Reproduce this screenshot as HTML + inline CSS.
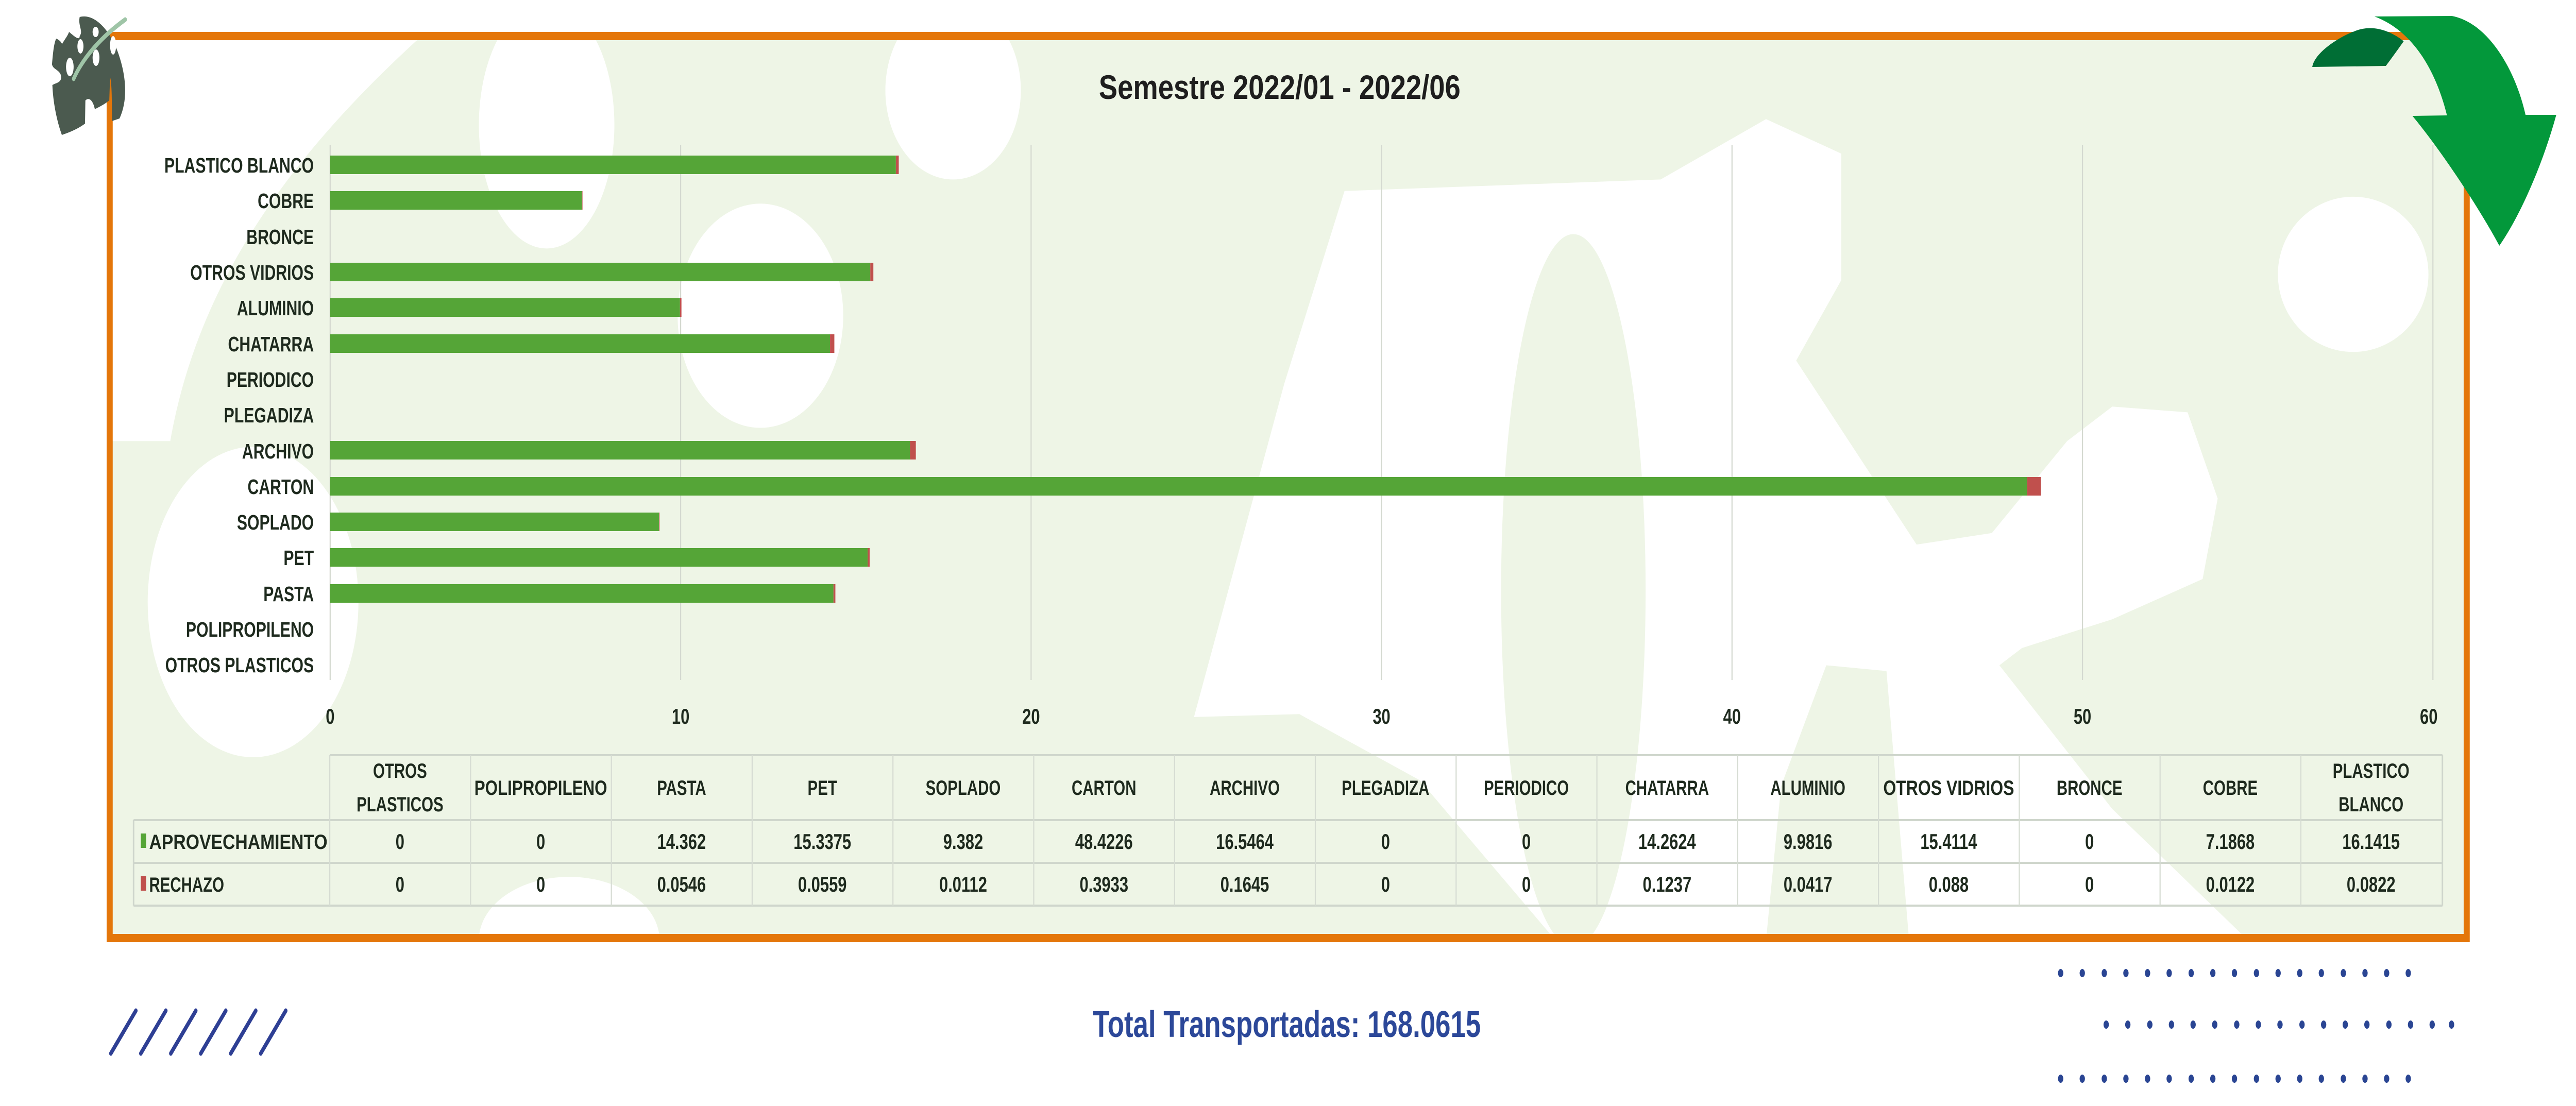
<!DOCTYPE html>
<html><head><meta charset="utf-8"><style>
html,body{margin:0;padding:0;background:#fff;width:100%;height:100%;overflow:hidden;}
svg{display:block;position:absolute;left:0;top:0;width:100vw;height:100vh;}
text{font-family:"Liberation Sans",sans-serif;font-weight:bold;}
</style></head><body>
<svg viewBox="0 0 6788 2147" preserveAspectRatio="none" xmlns="http://www.w3.org/2000/svg">
<defs><clipPath id="c"><rect x="296" y="78" width="6196" height="1735"/></clipPath></defs>
<g clip-path="url(#c)">
<g transform="translate(290,75) scale(3.967,1.116)">
  <rect x="0" y="0" width="1568" height="1568" fill="#eef5e6"/>
  <path d="M0,0 L205,0 C130,180 60,400 40,700 L0,700 Z" fill="#fff"/>
  <ellipse cx="290" cy="150" rx="45" ry="215" fill="#fff"/>
  <ellipse cx="432" cy="482" rx="55" ry="195" fill="#fff"/>
  <ellipse cx="560" cy="90" rx="45" ry="155" fill="#fff"/>
  <ellipse cx="95" cy="980" rx="70" ry="270" fill="#fff"/>
  <ellipse cx="305" cy="1568" rx="60" ry="110" fill="#fff"/>
  <path d="M820,265 L1030,245 L1100,140 L1150,200 L1150,420 L1120,560 L1200,880 L1250,860 L1300,700 L1330,640 L1380,650 L1400,800 L1390,940 L1330,1010 L1270,1060 L1255,1090 L1330,1340 L1420,1568 L1195,1568 L1180,1100 L1140,1090 L1110,1300 L1100,1568 L960,1568 L870,1290 L790,1175 L720,1180 L780,600 Z" fill="#fff"/>
  <ellipse cx="972" cy="960" rx="48" ry="620" fill="#eef5e6"/>
  <ellipse cx="1490" cy="410" rx="50" ry="135" fill="#fff"/>
</g>
</g>
<rect x="289" y="70" width="6211" height="1751" fill="none" stroke="#e4760a" stroke-width="16"/>
<text x="3372" y="192" font-size="66" fill="#1e1e1e" text-anchor="middle" textLength="953" lengthAdjust="spacingAndGlyphs">Semestre 2022/01 - 2022/06</text>
<g stroke="#d4d9d0" stroke-width="3">
  <line x1="870" y1="281" x2="870" y2="1320"/>
  <line x1="1793.5" y1="281" x2="1793.5" y2="1320"/>
  <line x1="2717" y1="281" x2="2717" y2="1320"/>
  <line x1="3640.5" y1="281" x2="3640.5" y2="1320"/>
  <line x1="4564" y1="281" x2="4564" y2="1320"/>
  <line x1="5487.5" y1="281" x2="5487.5" y2="1320"/>
  <line x1="6411" y1="281" x2="6411" y2="1320"/>
</g>
<g>
  <rect x="870" y="302" width="1490.7" height="36" fill="#55a537"/><rect x="2360.7" y="302" width="7.6" height="36" fill="#c0504d"/>
  <rect x="870" y="371" width="663.7" height="36" fill="#55a537"/><rect x="1533.7" y="371" width="1.2" height="36" fill="#c0504d"/>
  <rect x="870" y="510" width="1423.3" height="36" fill="#55a537"/><rect x="2293.3" y="510" width="8.1" height="36" fill="#c0504d"/>
  <rect x="870" y="579" width="921.8" height="36" fill="#55a537"/><rect x="1791.8" y="579" width="3.9" height="36" fill="#c0504d"/>
  <rect x="870" y="649" width="1317.2" height="36" fill="#55a537"/><rect x="2187.2" y="649" width="11.4" height="36" fill="#c0504d"/>
  <rect x="870" y="856" width="1528.1" height="36" fill="#55a537"/><rect x="2398.1" y="856" width="15.2" height="36" fill="#c0504d"/>
  <rect x="870" y="926" width="4471.8" height="36" fill="#55a537"/><rect x="5341.8" y="926" width="36.3" height="36" fill="#c0504d"/>
  <rect x="870" y="995" width="866.4" height="36" fill="#55a537"/><rect x="1736.4" y="995" width="1.5" height="36" fill="#c0504d"/>
  <rect x="870" y="1064" width="1416.4" height="36" fill="#55a537"/><rect x="2286.4" y="1064" width="5.2" height="36" fill="#c0504d"/>
  <rect x="870" y="1134" width="1326.3" height="36" fill="#55a537"/><rect x="2196.3" y="1134" width="5" height="36" fill="#c0504d"/>
</g>
<g font-size="41" fill="#1e2a1e" text-anchor="end">
  <text x="827" y="335">PLASTICO BLANCO</text>
  <text x="827" y="404">COBRE</text>
  <text x="827" y="474">BRONCE</text>
  <text x="827" y="543">OTROS VIDRIOS</text>
  <text x="827" y="612">ALUMINIO</text>
  <text x="827" y="682">CHATARRA</text>
  <text x="827" y="751">PERIODICO</text>
  <text x="827" y="820">PLEGADIZA</text>
  <text x="827" y="890">ARCHIVO</text>
  <text x="827" y="959">CARTON</text>
  <text x="827" y="1028">SOPLADO</text>
  <text x="827" y="1097">PET</text>
  <text x="827" y="1167">PASTA</text>
  <text x="827" y="1236">POLIPROPILENO</text>
  <text x="827" y="1305">OTROS PLASTICOS</text>
</g>
<g font-size="42" fill="#1e2a1e" text-anchor="middle">
  <text x="870" y="1405">0</text>
  <text x="1793.5" y="1405">10</text>
  <text x="2717" y="1405">20</text>
  <text x="3640.5" y="1405">30</text>
  <text x="4564" y="1405">40</text>
  <text x="5487.5" y="1405">50</text>
  <text x="6400" y="1405">60</text>
</g>
<g stroke="#cfd6cc" stroke-width="4" fill="none">
  <line x1="869" y1="1466" x2="6436" y2="1466"/>
  <line x1="352" y1="1592" x2="6436" y2="1592"/>
  <line x1="352" y1="1675" x2="6436" y2="1675"/>
  <line x1="352" y1="1758" x2="6436" y2="1758"/>
  <line x1="352" y1="1592" x2="352" y2="1758"/>
  <line x1="6436" y1="1466" x2="6436" y2="1758"/>
</g>
<g stroke="#d6dcd3" stroke-width="3">
  <line x1="869" y1="1466" x2="869" y2="1758"/><line x1="1240" y1="1466" x2="1240" y2="1758"/><line x1="1611" y1="1466" x2="1611" y2="1758"/><line x1="1982" y1="1466" x2="1982" y2="1758"/><line x1="2353" y1="1466" x2="2353" y2="1758"/><line x1="2724" y1="1466" x2="2724" y2="1758"/><line x1="3095" y1="1466" x2="3095" y2="1758"/><line x1="3466" y1="1466" x2="3466" y2="1758"/><line x1="3837" y1="1466" x2="3837" y2="1758"/><line x1="4208" y1="1466" x2="4208" y2="1758"/><line x1="4579" y1="1466" x2="4579" y2="1758"/><line x1="4950" y1="1466" x2="4950" y2="1758"/><line x1="5321" y1="1466" x2="5321" y2="1758"/><line x1="5692" y1="1466" x2="5692" y2="1758"/><line x1="6063" y1="1466" x2="6063" y2="1758"/>
</g>
<g font-size="40" fill="#1e2a1e" text-anchor="middle">
  <text x="1054" y="1510">OTROS</text><text x="1054" y="1575">PLASTICOS</text>
  <text x="1425" y="1543" textLength="350" lengthAdjust="spacingAndGlyphs">POLIPROPILENO</text>
  <text x="1796" y="1543">PASTA</text>
  <text x="2167" y="1543">PET</text>
  <text x="2538" y="1543">SOPLADO</text>
  <text x="2909" y="1543">CARTON</text>
  <text x="3280" y="1543">ARCHIVO</text>
  <text x="3651" y="1543">PLEGADIZA</text>
  <text x="4022" y="1543">PERIODICO</text>
  <text x="4393" y="1543">CHATARRA</text>
  <text x="4764" y="1543">ALUMINIO</text>
  <text x="5135" y="1543" textLength="345" lengthAdjust="spacingAndGlyphs">OTROS VIDRIOS</text>
  <text x="5506" y="1543">BRONCE</text>
  <text x="5877" y="1543">COBRE</text>
  <text x="6248" y="1510">PLASTICO</text><text x="6248" y="1575">BLANCO</text>
</g>
<rect x="371" y="1618" width="14" height="28" fill="#55a537"/>
<rect x="371" y="1701" width="14" height="28" fill="#c0504d"/>
<g font-size="40" fill="#1e2a1e">
  <text x="393" y="1648" textLength="470" lengthAdjust="spacingAndGlyphs">APROVECHAMIENTO</text>
  <text x="393" y="1731">RECHAZO</text>
</g>
<g font-size="42" fill="#1e2a1e" text-anchor="middle">
  <text x="1054" y="1648">0</text><text x="1425" y="1648">0</text><text x="1796" y="1648">14.362</text><text x="2167" y="1648">15.3375</text><text x="2538" y="1648">9.382</text><text x="2909" y="1648">48.4226</text><text x="3280" y="1648">16.5464</text><text x="3651" y="1648">0</text><text x="4022" y="1648">0</text><text x="4393" y="1648">14.2624</text><text x="4764" y="1648">9.9816</text><text x="5135" y="1648">15.4114</text><text x="5506" y="1648">0</text><text x="5877" y="1648">7.1868</text><text x="6248" y="1648">16.1415</text>
  <text x="1054" y="1731">0</text><text x="1425" y="1731">0</text><text x="1796" y="1731">0.0546</text><text x="2167" y="1731">0.0559</text><text x="2538" y="1731">0.0112</text><text x="2909" y="1731">0.3933</text><text x="3280" y="1731">0.1645</text><text x="3651" y="1731">0</text><text x="4022" y="1731">0</text><text x="4393" y="1731">0.1237</text><text x="4764" y="1731">0.0417</text><text x="5135" y="1731">0.088</text><text x="5506" y="1731">0</text><text x="5877" y="1731">0.0122</text><text x="6248" y="1731">0.0822</text>
</g>
<g>
  <path d="M210,33 C250,25 290,60 310,100 C330,140 340,190 315,230 L295,235 C295,200 295,160 290,150 L288,195 C270,205 260,208 250,212 C245,195 235,188 225,195 L224,240 C205,250 190,255 163,262 C150,235 140,200 138,165 C150,160 165,160 160,145 C155,135 140,135 137,125 C140,100 142,85 148,75 C160,78 172,90 158,95 C165,80 175,75 182,62 C195,70 210,80 210,70 C220,60 205,50 210,33 Z" fill="#4b5a4f"/>
  <ellipse cx="252" cy="62" rx="8" ry="10" fill="#fff"/>
  <ellipse cx="212" cy="90" rx="8" ry="14" fill="#fff"/>
  <ellipse cx="253" cy="112" rx="9" ry="16" fill="#fff"/>
  <ellipse cx="184" cy="130" rx="10" ry="18" fill="#fff"/>
  <ellipse cx="298" cy="88" rx="8" ry="18" fill="#fff"/>
  <path d="M330,38 C270,70 220,110 194,153" stroke="#9fc5a7" stroke-width="9" fill="none" stroke-linecap="round"/>
</g>
<path d="M6093,130 C6100,100 6170,70 6200,62 C6250,45 6300,60 6334,80 C6315,100 6300,115 6287,128 Z" fill="#006e35"/>
<path d="M6257,32 L6461,31 C6560,45 6630,140 6655,223 L6736,223 C6700,320 6640,420 6586,477 C6530,400 6430,290 6357,225 L6448,224 C6420,140 6360,60 6257,32 Z" fill="#03983b"/>
<text x="3391" y="2013" font-size="72" fill="#2c4899" text-anchor="middle" textLength="1022" lengthAdjust="spacingAndGlyphs">Total Transportadas: 168.0615</text>
<g stroke="#2e3f94" stroke-width="9" stroke-linecap="round">
  <line x1="358" y1="1962" x2="292" y2="2045"/>
  <line x1="437" y1="1962" x2="371" y2="2045"/>
  <line x1="516" y1="1962" x2="450" y2="2045"/>
  <line x1="595" y1="1962" x2="529" y2="2045"/>
  <line x1="674" y1="1962" x2="608" y2="2045"/>
  <line x1="753" y1="1962" x2="687" y2="2045"/>
</g>
<g fill="#2a4593">
  <ellipse cx="5430" cy="1889" rx="7" ry="8"/><ellipse cx="5487" cy="1889" rx="7" ry="8"/><ellipse cx="5545" cy="1889" rx="7" ry="8"/><ellipse cx="5602" cy="1889" rx="7" ry="8"/><ellipse cx="5659" cy="1889" rx="7" ry="8"/><ellipse cx="5716" cy="1889" rx="7" ry="8"/><ellipse cx="5774" cy="1889" rx="7" ry="8"/><ellipse cx="5831" cy="1889" rx="7" ry="8"/><ellipse cx="5888" cy="1889" rx="7" ry="8"/><ellipse cx="5946" cy="1889" rx="7" ry="8"/><ellipse cx="6003" cy="1889" rx="7" ry="8"/><ellipse cx="6060" cy="1889" rx="7" ry="8"/><ellipse cx="6117" cy="1889" rx="7" ry="8"/><ellipse cx="6175" cy="1889" rx="7" ry="8"/><ellipse cx="6232" cy="1889" rx="7" ry="8"/><ellipse cx="6289" cy="1889" rx="7" ry="8"/><ellipse cx="6346" cy="1889" rx="7" ry="8"/>
  <ellipse cx="5550" cy="1989" rx="7" ry="8"/><ellipse cx="5607" cy="1989" rx="7" ry="8"/><ellipse cx="5665" cy="1989" rx="7" ry="8"/><ellipse cx="5722" cy="1989" rx="7" ry="8"/><ellipse cx="5779" cy="1989" rx="7" ry="8"/><ellipse cx="5836" cy="1989" rx="7" ry="8"/><ellipse cx="5894" cy="1989" rx="7" ry="8"/><ellipse cx="5951" cy="1989" rx="7" ry="8"/><ellipse cx="6008" cy="1989" rx="7" ry="8"/><ellipse cx="6066" cy="1989" rx="7" ry="8"/><ellipse cx="6123" cy="1989" rx="7" ry="8"/><ellipse cx="6180" cy="1989" rx="7" ry="8"/><ellipse cx="6237" cy="1989" rx="7" ry="8"/><ellipse cx="6295" cy="1989" rx="7" ry="8"/><ellipse cx="6352" cy="1989" rx="7" ry="8"/><ellipse cx="6409" cy="1989" rx="7" ry="8"/><ellipse cx="6460" cy="1989" rx="7" ry="8"/>
  <ellipse cx="5430" cy="2094" rx="7" ry="8"/><ellipse cx="5487" cy="2094" rx="7" ry="8"/><ellipse cx="5545" cy="2094" rx="7" ry="8"/><ellipse cx="5602" cy="2094" rx="7" ry="8"/><ellipse cx="5659" cy="2094" rx="7" ry="8"/><ellipse cx="5716" cy="2094" rx="7" ry="8"/><ellipse cx="5774" cy="2094" rx="7" ry="8"/><ellipse cx="5831" cy="2094" rx="7" ry="8"/><ellipse cx="5888" cy="2094" rx="7" ry="8"/><ellipse cx="5946" cy="2094" rx="7" ry="8"/><ellipse cx="6003" cy="2094" rx="7" ry="8"/><ellipse cx="6060" cy="2094" rx="7" ry="8"/><ellipse cx="6117" cy="2094" rx="7" ry="8"/><ellipse cx="6175" cy="2094" rx="7" ry="8"/><ellipse cx="6232" cy="2094" rx="7" ry="8"/><ellipse cx="6289" cy="2094" rx="7" ry="8"/><ellipse cx="6346" cy="2094" rx="7" ry="8"/>
</g>
</svg>
</body></html>
